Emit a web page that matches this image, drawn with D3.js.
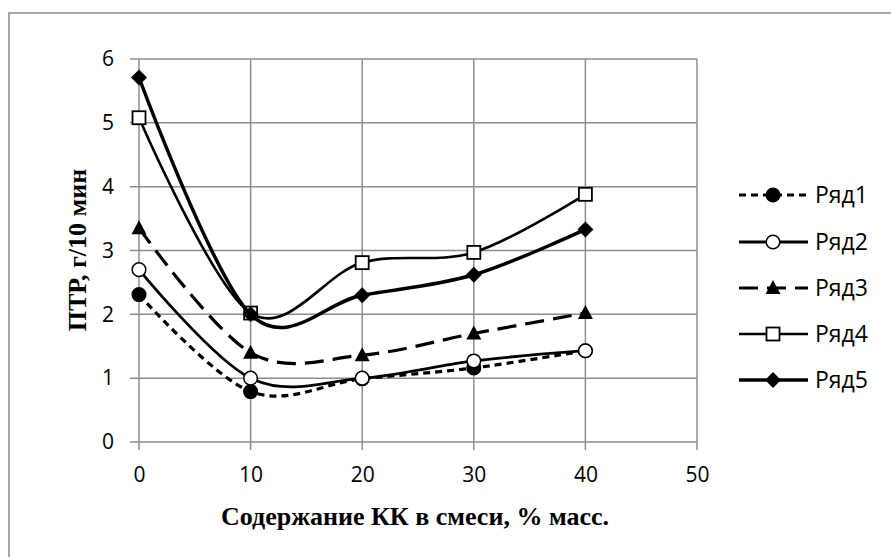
<!DOCTYPE html>
<html><head><meta charset="utf-8">
<script src="https://cdn.jsdelivr.net/npm/d3@7/dist/d3.min.js"></script>
<style>body{margin:0;background:#fff}svg{display:block}</style>
</head><body>
<script>
const xValues = [0, 10, 20, 30, 40];
const seriesNames = ["Ряд1", "Ряд2", "Ряд3", "Ряд4", "Ряд5"];
const ryad1 = [2.31, 0.79, 0.99, 1.16, 1.43];
const ryad2 = [2.70, 1.00, 1.00, 1.27, 1.43];
const ryad3 = [3.35, 1.40, 1.36, 1.70, 2.02];
const ryad4 = [5.08, 2.02, 2.81, 2.97, 3.88];
const ryad5 = [5.71, 2.00, 2.30, 2.62, 3.33];
const xTicks = [0, 10, 20, 30, 40, 50];
const yTicks = [0, 1, 2, 3, 4, 5, 6];
const xTitle = "Содержание КК в смеси, % масс.";
const yTitle = "ПТР, г/10 мин";

const W = 891, H = 557;
const svg = d3.select("body").append("svg").attr("width", W).attr("height", H);
svg.append("rect").attr("x", 9).attr("y", 13).attr("width", W).attr("height", H)
  .attr("fill", "#fff").attr("stroke", "#898989").attr("stroke-width", 1.5);

const x = d3.scaleLinear().domain([0, 50]).range([139, 697]);
const y = d3.scaleLinear().domain([0, 6]).range([442, 59]);

// grid
const grid = svg.append("g").attr("stroke", "#8c8c8c").attr("stroke-width", 1.5);
yTicks.forEach(t => grid.append("line").attr("x1", 130).attr("x2", x(50)).attr("y1", y(t)).attr("y2", y(t)));
xTicks.forEach(t => grid.append("line").attr("x1", x(t)).attr("x2", x(t)).attr("y1", y(6)).attr("y2", y(0) + 8));

// axes labels
const yAxis = svg.append("g").attr("transform", `translate(${x(0) - 9},0)`)
  .call(d3.axisLeft(y).tickValues(yTicks).tickSize(0).tickPadding(16).tickFormat(d3.format("d")));
yAxis.select(".domain").remove();
yAxis.selectAll("text").attr("font-family", "Open Sans").attr("font-size", 21).attr("fill", "#000");
const xAxis = svg.append("g").attr("transform", `translate(0,${y(0) + 8})`)
  .call(d3.axisBottom(x).tickValues(xTicks).tickSize(0).tickPadding(17).tickFormat(d3.format("d")));
xAxis.select(".domain").remove();
xAxis.selectAll("text").attr("font-family", "Open Sans").attr("font-size", 21).attr("fill", "#000");

svg.append("text").attr("x", 415).attr("y", 525).attr("text-anchor", "middle")
  .attr("font-family", "Liberation Serif").attr("font-weight", "bold").attr("font-size", 26).text(xTitle);
svg.append("text").attr("transform", `translate(86,${250}) rotate(-90)`).attr("text-anchor", "middle")
  .attr("font-family", "Liberation Serif").attr("font-weight", "bold").attr("font-size", 26).text(yTitle);

const data = [ryad1, ryad2, ryad3, ryad4, ryad5];
const styles = [
  {dash: "7,5", w: 3.2, marker: "circle", fill: "#000"},
  {dash: null, w: 2.8, marker: "circle", fill: "#fff"},
  {dash: "19,9", w: 3.2, marker: "triangle", fill: "#000"},
  {dash: null, w: 2.6, marker: "square", fill: "#fff"},
  {dash: null, w: 3.5, marker: "diamond", fill: "#000"}
];
const line = d3.line().x(d => x(d[0])).y(d => y(d[1])).curve(d3.curveCatmullRom.alpha(0));

function drawMarker(g, type, cx, cy, fill) {
  if (type === "circle") {
    g.append("circle").attr("cx", cx).attr("cy", cy).attr("r", 6.8).attr("fill", fill).attr("stroke", "#000").attr("stroke-width", 1.5);
  } else if (type === "triangle") {
    g.append("path").attr("d", `M${cx},${cy - 8}L${cx + 7.5},${cy + 6}L${cx - 7.5},${cy + 6}Z`).attr("fill", fill);
  } else if (type === "square") {
    g.append("rect").attr("x", cx - 6.5).attr("y", cy - 6.5).attr("width", 13).attr("height", 13).attr("fill", fill).attr("stroke", "#000").attr("stroke-width", 1.8);
  } else if (type === "diamond") {
    g.append("path").attr("d", `M${cx},${cy - 8}L${cx + 8},${cy}L${cx},${cy + 8}L${cx - 8},${cy}Z`).attr("fill", fill);
  }
}

data.forEach((vals, i) => {
  const st = styles[i];
  const pts = xValues.map((xv, j) => [xv, vals[j]]);
  const g = svg.append("g");
  g.append("path").attr("d", line(pts)).attr("fill", "none").attr("stroke", "#000")
    .attr("stroke-width", st.w).attr("stroke-dasharray", st.dash);
  pts.forEach(p => drawMarker(g, st.marker, x(p[0]), y(p[1]), st.fill));
});

// legend
const rowsY = [195, 242, 288, 334, 380];
seriesNames.forEach((name, i) => {
  const st = styles[i];
  const g = svg.append("g");
  const cy = rowsY[i];
  g.append("line").attr("x1", 739).attr("x2", 808).attr("y1", cy).attr("y2", cy)
    .attr("stroke", "#000").attr("stroke-width", st.w).attr("stroke-dasharray", st.dash);
  drawMarker(g, st.marker, 773, cy, st.fill);
  g.append("text").attr("x", 815).attr("y", cy + 8).attr("font-family", "Open Sans").attr("font-size", 23).text(name);
});
</script>
</body></html>
